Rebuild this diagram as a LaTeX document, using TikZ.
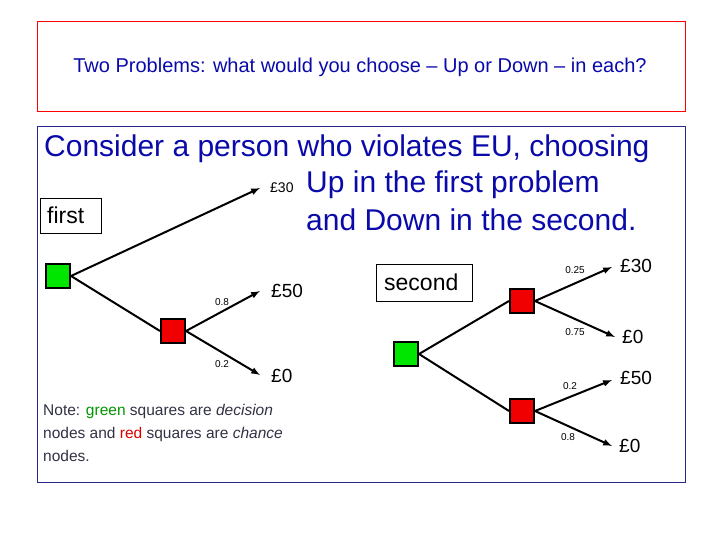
\documentclass[tikz,border=0pt]{standalone}
\usepackage{fontspec}
\setmainfont{Liberation Sans}
\definecolor{tblue}{RGB}{10,10,170}
\definecolor{bord}{RGB}{40,40,140}
\definecolor{gsq}{RGB}{0,230,0}
\definecolor{rsq}{RGB}{240,0,0}
\definecolor{ngreen}{RGB}{0,150,0}
\definecolor{nred}{RGB}{220,0,0}
\definecolor{ngray}{RGB}{50,50,70}
\begin{document}
\begin{tikzpicture}[x=1pt,y=-1pt,
  dec/.style={draw=black,line width=2pt,fill=gsq,minimum size=24pt,inner sep=0pt},
  chn/.style={draw=black,line width=2pt,fill=rsq,minimum size=24pt,inner sep=0pt},
  br/.style={line width=2pt,-latex},
  pay/.style={anchor=west,font=\fontsize{19}{19}\selectfont,inner sep=0pt},
  prob/.style={font=\fontsize{10}{10}\selectfont,inner sep=0pt},
  lbl/.style={draw=black,line width=0.8pt,anchor=north west,inner sep=0pt}]
\useasboundingbox (0,0) rectangle (720,540);
\fill[white] (0,0) rectangle (720,540);
\node[draw=red,line width=0.8pt,minimum width=648pt,minimum height=90pt,anchor=north west,inner sep=0pt] (top) at (37,21) {};
\node[text=tblue,font=\fontsize{20}{20}\selectfont] (title) at (360,67) {Two Problems: what would you choose -- Up or Down -- in each?};
\node[draw=bord,line width=1pt,minimum width=648pt,minimum height=356pt,anchor=north west,inner sep=0pt] (main) at (37,126) {};
\node[text=tblue,anchor=west,inner sep=0pt,font=\fontsize{30}{30}\selectfont] (l1) at (44,149) {Consider a person who violates EU, choosing};
\node[text=tblue,anchor=west,inner sep=0pt,font=\fontsize{30}{30}\selectfont] (l2) at (306,185) {Up in the first problem};
\node[text=tblue,anchor=west,inner sep=0pt,font=\fontsize{30}{30}\selectfont] (l3) at (306,220) {and Down in the second.};
% first tree
\node[lbl,minimum width=61pt,minimum height=35pt] (first) at (40,198) {};
\node[anchor=west,inner sep=0pt,font=\fontsize{23}{23}\selectfont] (firstt) at (47,215) {first};
\node[dec] (g1) at (58,276) {};
\node[chn] (r1) at (173,331) {};
\coordinate (e1) at (260,188);
\coordinate (e2) at (260,291);
\coordinate (e3) at (260,375);
\draw[br] (g1.east) -- (e1);
\draw[line width=2pt] (g1.east) -- (r1.west);
\draw[br] (r1.east) -- (e2);
\draw[br] (r1.east) -- (e3);
\node[pay,font=\fontsize{14}{14}\selectfont] (p1) at (270,188) {£30};
\node[pay] (p2) at (271,291) {£50};
\node[pay] (p3) at (271,376) {£0};
\node[prob] (q1) at (222,302) {0.8};
\node[prob] (q2) at (222,364) {0.2};
% second tree
\node[lbl,minimum width=96pt,minimum height=37pt] (second) at (376,264) {};
\node[anchor=west,inner sep=0pt,font=\fontsize{23}{23}\selectfont] (secondt) at (384,282) {second};
\node[dec] (g2) at (406,354) {};
\node[chn] (r2) at (522,301) {};
\node[chn] (r3) at (522,411) {};
\draw[line width=2pt] (g2.east) -- (r2.west);
\draw[line width=2pt] (g2.east) -- (r3.west);
\coordinate (f1) at (612,267);
\coordinate (f2) at (615,337);
\coordinate (f3) at (612,380);
\coordinate (f4) at (612,446);
\draw[br] (r2.east) -- (f1);
\draw[br] (r2.east) -- (f2);
\draw[br] (r3.east) -- (f3);
\draw[br] (r3.east) -- (f4);
\node[pay] (s1) at (620,266) {£30};
\node[pay] (s2) at (622,337) {£0};
\node[pay] (s3) at (620,378) {£50};
\node[pay] (s4) at (619,446) {£0};
\node[prob] (t1) at (575,270) {0.25};
\node[prob] (t2) at (575,332) {0.75};
\node[prob] (t3) at (570,386) {0.2};
\node[prob] (t4) at (568,437) {0.8};
% note
\node[anchor=north west,inner sep=0pt,text=ngray,align=left,font=\fontsize{15.5}{23}\selectfont] (note) at (43,404)
 {Note: \textcolor{ngreen}{green} squares are \textit{decision}\\nodes and \textcolor{nred}{red} squares are \textit{chance}\\nodes.};
\end{tikzpicture}
\end{document}
